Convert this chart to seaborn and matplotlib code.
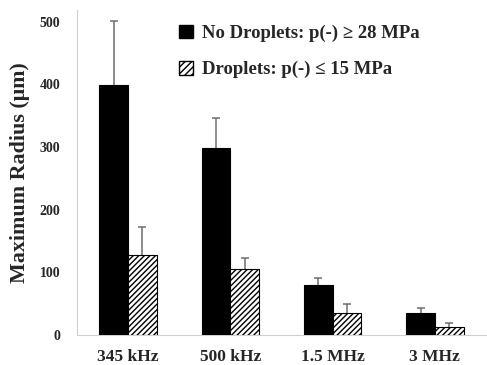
import matplotlib
matplotlib.use("Agg")
import matplotlib.pyplot as plt
import seaborn as sns
import pandas as pd
import numpy as np
from matplotlib.patches import Patch

categories = ["345 kHz", "500 kHz", "1.5 MHz", "3 MHz"]
series_names = ["No Droplets: p(-) \u2265 28 MPa", "Droplets: p(-) \u2264 15 MPa"]
no_droplets = [399, 298, 80, 35]
no_droplets_err = [103, 49, 11, 8]
droplets = [127, 106, 36, 13]
droplets_err = [46, 17, 13, 6]
yticks = [0, 100, 200, 300, 400, 500]

df = pd.DataFrame({
    "freq": categories * 2,
    "series": [series_names[0]] * 4 + [series_names[1]] * 4,
    "value": no_droplets + droplets,
})
errs = [no_droplets_err, droplets_err]
vals = [no_droplets, droplets]

sns.set_theme(style="white")
plt.rcParams["font.family"] = ["Liberation Serif", "DejaVu Serif"]
plt.rcParams["font.weight"] = "bold"
plt.rcParams["hatch.linewidth"] = 1.0
plt.rcParams["hatch.color"] = "black"

fig = plt.figure(figsize=(4.87, 3.65), dpi=100)
ax = fig.add_axes([0.158, 0.082, 0.84, 0.891])

sns.barplot(data=df, x="freq", y="value", hue="series", order=categories,
            hue_order=series_names, palette=["black", "white"],
            width=0.56, errorbar=None, ax=ax, legend=False,
            edgecolor="black", linewidth=0.8, zorder=3, saturation=1)

bar_containers = list(ax.containers)
for i, cont in enumerate(bar_containers):
    xs = []
    for p in cont.patches:
        xs.append(p.get_x() + p.get_width() / 2)
        if i == 1:
            p.set_hatch("//////")
    eb = ax.errorbar(xs, vals[i], yerr=[np.zeros(len(xs)), errs[i]], fmt="none",
                     ecolor="#6e6e6e", elinewidth=1.1, capsize=3, capthick=1.1, zorder=2)
    caps = eb[1]
    if len(caps) > 0:
        caps[0].set_visible(False)

ax.set_ylim(0, 519)
ax.set_xlim(-0.5, 3.5)
ax.set_yticks(yticks)
ax.set_yticklabels([str(t) for t in yticks], fontsize=10, fontweight="bold")
ax.set_xticks(range(len(categories)))
ax.set_xticklabels(categories, fontsize=12.5, fontweight="bold")
ax.set_xticks([-0.5, 0.5, 1.5, 2.5, 3.5], minor=True)
ax.tick_params(axis="x", which="major", length=0, pad=10)
ax.tick_params(axis="x", which="minor", length=5, color="#d0d0d0", width=0.8, direction="out")
ax.tick_params(axis="y", which="major", length=5, color="#d0d0d0", width=0.8, direction="out", pad=7)
ax.set_xlabel("")
ax.set_ylabel("Maximum Radius (\u03bcm)", fontsize=15.8, fontweight="bold")
ax.yaxis.set_label_coords(-0.115, 0.5)

for s in ["top", "right"]:
    ax.spines[s].set_visible(False)
for s in ["left", "bottom"]:
    ax.spines[s].set_color("#d0d0d0")
    ax.spines[s].set_linewidth(0.8)

handles = [Patch(facecolor="black", edgecolor="black", label=series_names[0]),
           Patch(facecolor="white", edgecolor="black", hatch="/////", label=series_names[1])]
leg = ax.legend(handles=handles, loc="upper left", bbox_to_anchor=(0.218, 0.995),
                frameon=False, prop={"size": 13.5, "weight": "bold"},
                handlelength=0.75, handleheight=0.75, handletextpad=0.45,
                labelspacing=1.0, borderaxespad=0.3)

fig.savefig("out.png", dpi=100)
